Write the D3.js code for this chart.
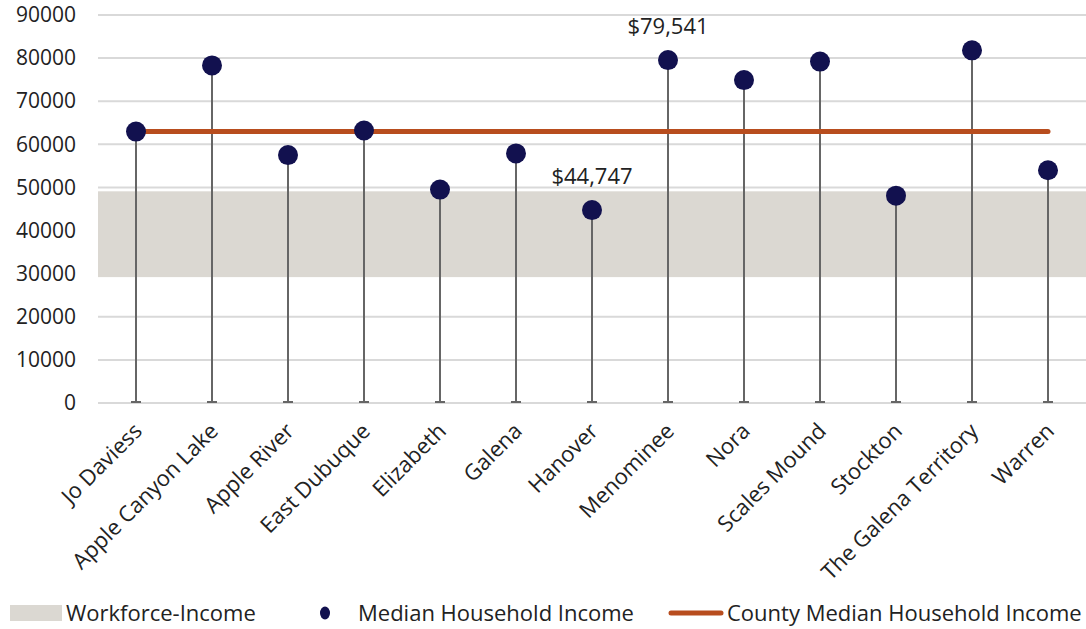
<!DOCTYPE html>
<html>
<head>
<meta charset="utf-8">
<script src="https://cdn.jsdelivr.net/npm/d3@7"></script>
<style>
  html, body { margin: 0; padding: 0; background: #fff; }
  svg { display: block; font-family: "Open Sans", "Noto Sans", sans-serif; }
</style>
</head>
<body>
<svg id="chart" width="1086" height="629"></svg>
<script>
// Median household income by community, Jo Daviess County
const places = ["Jo Daviess", "Apple Canyon Lake", "Apple River", "East Dubuque", "Elizabeth",
  "Galena", "Hanover", "Menominee", "Nora", "Scales Mound", "Stockton", "The Galena Territory", "Warren"];
const medianIncome = [62960, 78300, 57500, 63200, 49500, 57900, 44747, 79541, 74900, 79200, 48100, 81800, 54000];
const countyMedian = 63000;
const workforceBand = [29200, 49100];
const yTicks = [0, 10000, 20000, 30000, 40000, 50000, 60000, 70000, 80000, 90000];
const labelled = ["Hanover", "Menominee"];
const legendItems = ["Workforce-Income", "Median Household Income", "County Median Household Income"];

const svg = d3.select("#chart");
const plot = { left: 98, right: 1086, top: 15, bottom: 403 };

const x = d3.scaleBand().domain(places).range([plot.left, plot.right]);
const y = d3.scaleLinear().domain([0, 90000]).range([plot.bottom, plot.top]);
const cx = d => x(d) + x.bandwidth() / 2;

// horizontal gridlines
svg.append("g").selectAll("line").data(yTicks).join("line")
  .attr("x1", plot.left).attr("x2", plot.right)
  .attr("y1", d => y(d)).attr("y2", d => y(d))
  .attr("stroke", "#d9d9d9").attr("stroke-width", 2);

// workforce income band
svg.append("rect")
  .attr("x", plot.left).attr("width", plot.right - plot.left)
  .attr("y", y(workforceBand[1])).attr("height", y(workforceBand[0]) - y(workforceBand[1]))
  .attr("fill", "#dbd8d2");

// y axis labels
const yAxis = d3.axisLeft(y).tickValues(yTicks).tickSize(0).tickPadding(0).tickFormat(d3.format("d"));
const gy = svg.append("g").attr("transform", "translate(76,0)").call(yAxis);
gy.select(".domain").remove();
gy.selectAll("text").attr("font-size", 21).attr("fill", "#222").attr("font-family", "Open Sans");

// stems
const stems = svg.append("g");
stems.selectAll("line.stem").data(places).join("line").attr("class", "stem")
  .attr("x1", d => cx(d)).attr("x2", d => cx(d))
  .attr("y1", (d, i) => y(medianIncome[i])).attr("y2", y(0))
  .attr("stroke", "#666").attr("stroke-width", 2);
stems.selectAll("line.foot").data(places).join("line").attr("class", "foot")
  .attr("x1", d => cx(d) - 5).attr("x2", d => cx(d) + 5)
  .attr("y1", y(0) - 1).attr("y2", y(0) - 1)
  .attr("stroke", "#666").attr("stroke-width", 2);

// county median line
svg.append("line")
  .attr("x1", cx(places[0])).attr("x2", cx(places[places.length - 1]))
  .attr("y1", y(countyMedian)).attr("y2", y(countyMedian))
  .attr("stroke", "#b84d1e").attr("stroke-width", 5).attr("stroke-linecap", "round");

// dots
svg.append("g").selectAll("circle").data(places).join("circle")
  .attr("cx", d => cx(d)).attr("cy", (d, i) => y(medianIncome[i]))
  .attr("r", 10).attr("fill", "#12114f");

// value labels
const fmt = d3.format("$,");
svg.append("g").selectAll("text").data(labelled).join("text")
  .attr("x", d => cx(d)).attr("y", d => y(medianIncome[places.indexOf(d)]) - 26)
  .attr("text-anchor", "middle").attr("font-size", 22).attr("fill", "#222")
  .text(d => fmt(medianIncome[places.indexOf(d)]));

// category labels
const xAxis = d3.axisBottom(x).tickSize(0).tickPadding(0);
const gx = svg.append("g").attr("transform", `translate(0,${plot.bottom})`).call(xAxis);
gx.select(".domain").remove();
gx.selectAll("text")
  .attr("font-size", 22).attr("fill", "#222").attr("font-family", "Open Sans")
  .attr("text-anchor", "end")
  .attr("transform", "translate(2,24) rotate(-45)")
  .attr("x", 0).attr("y", 0).attr("dy", "0.35em");

// legend
const lg = svg.append("g").attr("font-size", 22).attr("fill", "#222");
const ly = 613;
lg.append("rect").attr("x", 10).attr("y", ly - 8).attr("width", 52).attr("height", 16).attr("fill", "#dbd8d2");
lg.append("text").attr("x", 66).attr("y", ly).attr("dy", "0.35em").text(legendItems[0]);
lg.append("ellipse").attr("cx", 325).attr("cy", ly).attr("rx", 5).attr("ry", 6.5).attr("fill", "#12114f");
lg.append("text").attr("x", 358).attr("y", ly).attr("dy", "0.35em").text(legendItems[1]);
lg.append("line").attr("x1", 671).attr("x2", 721).attr("y1", ly).attr("y2", ly)
  .attr("stroke", "#b84d1e").attr("stroke-width", 5).attr("stroke-linecap", "round");
lg.append("text").attr("x", 727).attr("y", ly).attr("dy", "0.35em").text(legendItems[2]);
</script>
</body>
</html>
